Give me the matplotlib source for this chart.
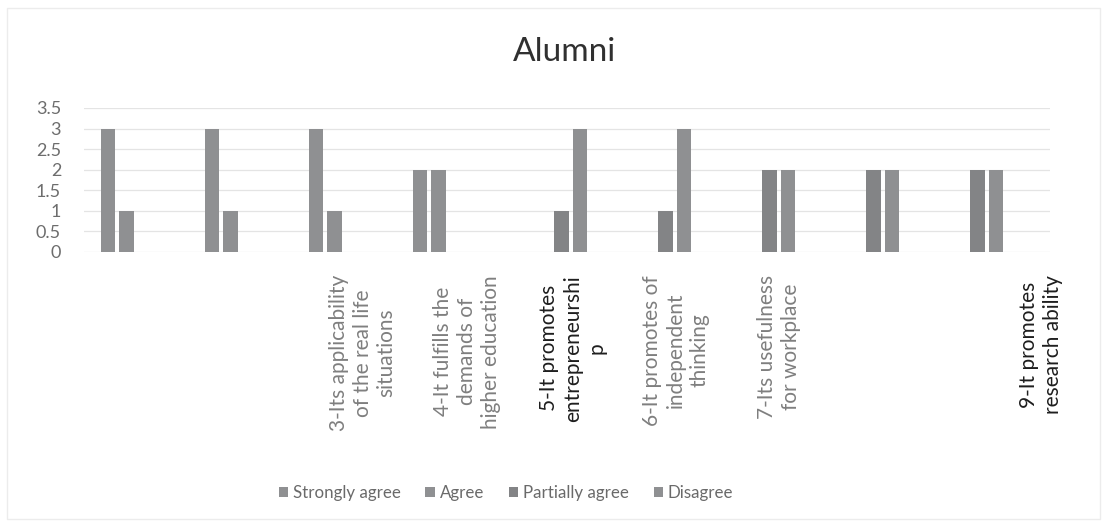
import matplotlib
matplotlib.use("Agg")
import matplotlib.pyplot as plt
from matplotlib.patches import Rectangle
import matplotlib.transforms as mtransforms
import numpy as np

plt.rcParams['font.family'] = ['Lato', 'DejaVu Sans']

# ---- data ----
categories = [
    "",
    "",
    "3-Its applicability\nof the real life\nsituations",
    "4-It fulfills the\ndemands of\nhigher education",
    "5-It promotes\nentrepreneurshi\np",
    "6-It promotes of\nindependent\nthinking",
    "7-Its usefulness\nfor workplace",
    "",
    "9-It promotes\nresearch ability",
]
series_names = ["Strongly agree", "Agree", "Partially agree", "Disagree"]
strongly_agree = [3, 3, 3, 2, 0, 0, 0, 0, 0]
agree = [1, 1, 1, 2, 0, 0, 0, 0, 0]
partially_agree = [0, 0, 0, 0, 1, 1, 2, 2, 2]
disagree = [0, 0, 0, 0, 3, 3, 2, 2, 2]
y_ticks = [0, 0.5, 1, 1.5, 2, 2.5, 3, 3.5]

# ---- layout / style ----
label_colors = ["#7f7f7f", "#7f7f7f", "#7f7f7f", "#7f7f7f", "#1e1e1e",
                "#7f7f7f", "#7f7f7f", "#7f7f7f", "#1e1e1e"]
label_shift = [0.18, 0.18, 0.18, 0.18, 0.2, 0.19, 0.18, 0.18, 0.7]
bar_colors = ["#8f9092", "#8f9092", "#838486", "#8f9092"]

W, H = 1109, 524
fig = plt.figure(figsize=(W / 100, H / 100), dpi=100)

# faint chart border
fig.patches.append(Rectangle((7 / W, 5 / H), 1093 / W, 511 / H, transform=fig.transFigure,
                             fill=False, edgecolor="#ececec", linewidth=1.0))

ax_left, ax_right = 84, 1050
ax_top, ax_bottom = 108, 252
ax = fig.add_axes([ax_left / W, (H - ax_bottom) / H, (ax_right - ax_left) / W,
                   (ax_bottom - ax_top) / H])

x = np.arange(len(categories))
pitch = 0.18
bw = 0.14
all_series = [strongly_agree, agree, partially_agree, disagree]
for k, (name, vals) in enumerate(zip(series_names, all_series)):
    ax.bar(x + (k - 1.5) * pitch, vals, width=bw, color=bar_colors[k], label=name, zorder=3)

ax.set_xlim(-0.5, -0.5 + (ax_right - ax_left) / 104.0)
ax.set_ylim(0, 3.5)
ax.set_yticks(y_ticks)
ax.set_yticklabels([("%g" % v) for v in y_ticks])
ax.tick_params(axis='y', length=0, pad=16.5, labelsize=13, labelcolor="#6d6d6d")
ax.set_xticks([])
for s in ax.spines.values():
    s.set_visible(False)
ax.grid(axis='y', color="#e4e4e4", linewidth=0.9, zorder=0)

# category labels (rotated)
trans = mtransforms.blended_transform_factory(ax.transData, fig.transFigure)
for i, lab in enumerate(categories):
    if not lab:
        continue
    ax.text(i + label_shift[i], (H - 275) / H, lab, rotation=90, transform=trans,
            ha='center', va='top', multialignment='center', fontsize=15,
            color=label_colors[i], linespacing=1.25)

# title
fig.text(565 / W, (H - 52) / H, "Alumni", ha='center', va='center', fontsize=24, color="#303030")

# legend
handles, labels = ax.get_legend_handles_labels()
fig.legend(handles, labels, loc='center', bbox_to_anchor=(506 / W, (H - 493) / H), ncol=4,
           frameon=False, fontsize=12.2, labelcolor="#6a6a6a", handlelength=0.55,
           handleheight=0.6, handletextpad=0.3, columnspacing=1.45)

fig.savefig("out.png", dpi=100, facecolor="white")
